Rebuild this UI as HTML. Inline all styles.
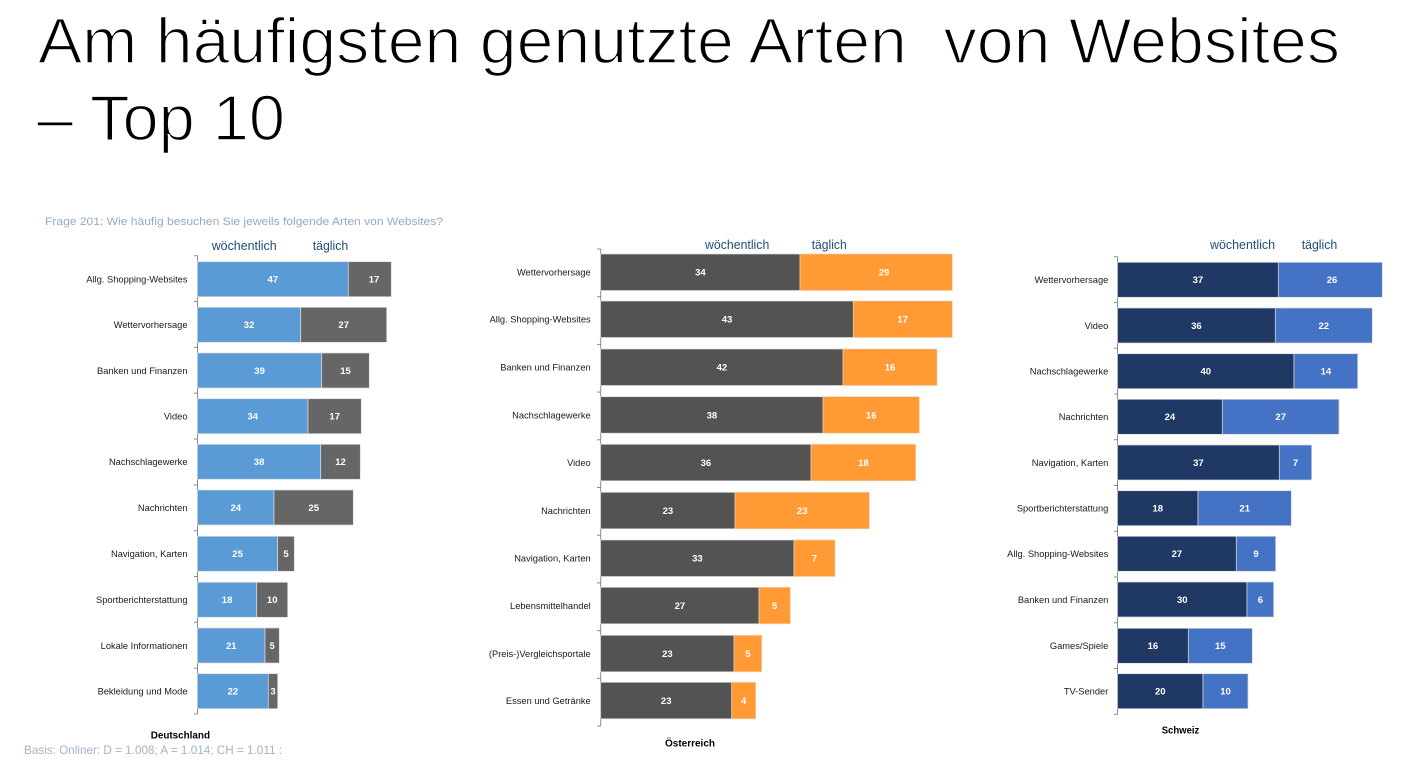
<!DOCTYPE html>
<html><head><meta charset="utf-8">
<style>
html,body{margin:0;padding:0;background:#fff;}
svg{display:block;}
text{font-family:"Liberation Sans",sans-serif;}
.t{font-size:64px;fill:#000;white-space:pre;stroke:#fff;stroke-width:1.6px;}
.cat{font-size:9.3px;fill:#1a1a1a;text-anchor:end;}
.v{font-size:9.5px;font-weight:bold;fill:#fff;text-anchor:middle;}
.lg{font-size:12.5px;fill:#1F4E79;}
.cn{font-size:10px;font-weight:bold;fill:#000;}
.ax{stroke:#8c8c8c;stroke-width:1;fill:none;}
.b1{fill:#5B9BD5;stroke:#dcdcdc;stroke-width:0.7;}
.g1{fill:#666666;stroke:#dcdcdc;stroke-width:0.7;}
.g2{fill:#535353;stroke:#dcdcdc;stroke-width:0.7;}
.o2{fill:#FF9A35;stroke:#f0d0b0;stroke-width:0.7;}
.n3{fill:#203864;stroke:#dcdcdc;stroke-width:0.7;}
.l3{fill:#4472C4;stroke:#dcdcdc;stroke-width:0.7;}
</style></head>
<body>
<svg width="1427" height="761" viewBox="0 0 1427 761" xmlns="http://www.w3.org/2000/svg">
<rect width="1427" height="761" fill="#fff"/>
<!-- Title -->
<text class="t" x="38" y="63" textLength="1302" lengthAdjust="spacingAndGlyphs">Am häufigsten genutzte Arten  von Websites</text>
<text class="t" x="37" y="140" textLength="248" lengthAdjust="spacingAndGlyphs">– Top 10</text>

<text x="45" y="225" font-size="11" fill="#95A9C2" textLength="398" lengthAdjust="spacingAndGlyphs">Frage 201: Wie häufig besuchen Sie jeweils folgende Arten von Websites?</text>
<text x="24" y="754" font-size="12" fill="#A3B3C8" textLength="258" lengthAdjust="spacingAndGlyphs">Basis: Onliner: D = 1.008; A = 1.014; CH = 1.011 :</text>

<!-- ============ Chart 1 Deutschland ============ -->
<text class="lg" x="211.7" y="250" textLength="65" lengthAdjust="spacingAndGlyphs">wöchentlich</text>
<text class="lg" x="312.7" y="250" textLength="35.6" lengthAdjust="spacingAndGlyphs">täglich</text>
<g class="ax">
<line x1="197.5" y1="255.7" x2="197.5" y2="714"/>
<line x1="194" y1="255.7" x2="197.5" y2="255.7"/>
<line x1="194" y1="301.5" x2="197.5" y2="301.5"/>
<line x1="194" y1="347.4" x2="197.5" y2="347.4"/>
<line x1="194" y1="393.2" x2="197.5" y2="393.2"/>
<line x1="194" y1="439" x2="197.5" y2="439"/>
<line x1="194" y1="484.9" x2="197.5" y2="484.9"/>
<line x1="194" y1="530.7" x2="197.5" y2="530.7"/>
<line x1="194" y1="576.5" x2="197.5" y2="576.5"/>
<line x1="194" y1="622.3" x2="197.5" y2="622.3"/>
<line x1="194" y1="668.2" x2="197.5" y2="668.2"/>
<line x1="194" y1="714" x2="197.5" y2="714"/>
</g>
<rect class="b1" x="197.5" y="261.7" width="150.8" height="35"/><rect class="g1" x="348.3" y="261.7" width="43" height="35"/>
<rect class="b1" x="197.5" y="307.3" width="103.2" height="35"/><rect class="g1" x="300.7" y="307.3" width="86" height="35"/>
<rect class="b1" x="197.5" y="353" width="124.2" height="35"/><rect class="g1" x="321.7" y="353" width="47.6" height="35"/>
<rect class="b1" x="197.5" y="398.7" width="110.5" height="35"/><rect class="g1" x="308" y="398.7" width="53.3" height="35"/>
<rect class="b1" x="197.5" y="444.3" width="123.2" height="35"/><rect class="g1" x="320.7" y="444.3" width="39.6" height="35"/>
<rect class="b1" x="197.5" y="490" width="76.5" height="35"/><rect class="g1" x="274" y="490" width="79.3" height="35"/>
<rect class="b1" x="197.5" y="536.3" width="80.2" height="35"/><rect class="g1" x="277.7" y="536.3" width="16.6" height="35"/>
<rect class="b1" x="197.5" y="582.3" width="59.2" height="35"/><rect class="g1" x="256.7" y="582.3" width="31" height="35"/>
<rect class="b1" x="197.5" y="628" width="67.5" height="35"/><rect class="g1" x="265" y="628" width="14.3" height="35"/>
<rect class="b1" x="197.5" y="673.7" width="70.8" height="35"/><rect class="g1" x="268.3" y="673.7" width="9.4" height="35"/>

<text class="cat" x="187.5" y="282.5">Allg. Shopping-Websites</text>
<text class="cat" x="187.5" y="328.1">Wettervorhersage</text>
<text class="cat" x="187.5" y="373.8">Banken und Finanzen</text>
<text class="cat" x="187.5" y="419.5">Video</text>
<text class="cat" x="187.5" y="465.1">Nachschlagewerke</text>
<text class="cat" x="187.5" y="510.8">Nachrichten</text>
<text class="cat" x="187.5" y="557.1">Navigation, Karten</text>
<text class="cat" x="187.5" y="603.1">Sportberichterstattung</text>
<text class="cat" x="187.5" y="648.8">Lokale Informationen</text>
<text class="cat" x="187.5" y="694.5">Bekleidung und Mode</text>

<text class="v" x="272.9" y="282.6">47</text><text class="v" x="374" y="282.6">17</text>
<text class="v" x="249.1" y="328.2">32</text><text class="v" x="343.7" y="328.2">27</text>
<text class="v" x="259.6" y="373.9">39</text><text class="v" x="345.5" y="373.9">15</text>
<text class="v" x="252.8" y="419.6">34</text><text class="v" x="334.7" y="419.6">17</text>
<text class="v" x="259.1" y="465.2">38</text><text class="v" x="340.5" y="465.2">12</text>
<text class="v" x="235.8" y="510.9">24</text><text class="v" x="313.7" y="510.9">25</text>
<text class="v" x="237.6" y="557.2">25</text><text class="v" x="286" y="557.2">5</text>
<text class="v" x="227.1" y="603.2">18</text><text class="v" x="272.2" y="603.2">10</text>
<text class="v" x="231.3" y="648.9">21</text><text class="v" x="272.2" y="648.9">5</text>
<text class="v" x="232.9" y="694.6">22</text><text class="v" x="273" y="694.6">3</text>

<text class="cn" x="150.7" y="738.3" textLength="59.3" lengthAdjust="spacingAndGlyphs">Deutschland</text>

<!-- ============ Chart 2 Österreich ============ -->
<text class="lg" x="705" y="249" textLength="64.3" lengthAdjust="spacingAndGlyphs">wöchentlich</text>
<text class="lg" x="811.7" y="249" textLength="35" lengthAdjust="spacingAndGlyphs">täglich</text>
<g class="ax">
<line x1="600.7" y1="249" x2="600.7" y2="726"/>
<line x1="597" y1="249" x2="600.7" y2="249"/>
<line x1="597" y1="296.7" x2="600.7" y2="296.7"/>
<line x1="597" y1="344.4" x2="600.7" y2="344.4"/>
<line x1="597" y1="392.1" x2="600.7" y2="392.1"/>
<line x1="597" y1="439.8" x2="600.7" y2="439.8"/>
<line x1="597" y1="487.5" x2="600.7" y2="487.5"/>
<line x1="597" y1="535.2" x2="600.7" y2="535.2"/>
<line x1="597" y1="582.9" x2="600.7" y2="582.9"/>
<line x1="597" y1="630.6" x2="600.7" y2="630.6"/>
<line x1="597" y1="678.3" x2="600.7" y2="678.3"/>
<line x1="597" y1="726" x2="600.7" y2="726"/>
</g>
<rect class="g2" x="600.7" y="254" width="199.3" height="36.5"/><rect class="o2" x="800" y="254" width="152.3" height="36.5"/>
<rect class="g2" x="600.7" y="301" width="252.6" height="36.5"/><rect class="o2" x="853.3" y="301" width="99" height="36.5"/>
<rect class="g2" x="600.7" y="349" width="242.3" height="36.5"/><rect class="o2" x="843" y="349" width="94" height="36.5"/>
<rect class="g2" x="600.7" y="396.7" width="222.3" height="36.5"/><rect class="o2" x="823" y="396.7" width="96.3" height="36.5"/>
<rect class="g2" x="600.7" y="444.3" width="210.3" height="36.5"/><rect class="o2" x="811" y="444.3" width="104.7" height="36.5"/>
<rect class="g2" x="600.7" y="492.3" width="134.3" height="36.5"/><rect class="o2" x="735" y="492.3" width="134.3" height="36.5"/>
<rect class="g2" x="600.7" y="540" width="193.3" height="36.5"/><rect class="o2" x="794" y="540" width="41" height="36.5"/>
<rect class="g2" x="600.7" y="587.3" width="158.3" height="36.5"/><rect class="o2" x="759" y="587.3" width="31.3" height="36.5"/>
<rect class="g2" x="600.7" y="635.3" width="133.3" height="36.5"/><rect class="o2" x="734" y="635.3" width="27.7" height="36.5"/>
<rect class="g2" x="600.7" y="682.3" width="131" height="36.5"/><rect class="o2" x="731.7" y="682.3" width="24" height="36.5"/>

<text class="cat" x="590.7" y="275.6">Wettervorhersage</text>
<text class="cat" x="590.7" y="322.6">Allg. Shopping-Websites</text>
<text class="cat" x="590.7" y="370.6">Banken und Finanzen</text>
<text class="cat" x="590.7" y="418.3">Nachschlagewerke</text>
<text class="cat" x="590.7" y="465.9">Video</text>
<text class="cat" x="590.7" y="513.9">Nachrichten</text>
<text class="cat" x="590.7" y="561.6">Navigation, Karten</text>
<text class="cat" x="590.7" y="608.9">Lebensmittelhandel</text>
<text class="cat" x="590.7" y="656.9">(Preis-)Vergleichsportale</text>
<text class="cat" x="590.7" y="703.9">Essen und Getränke</text>

<text class="v" x="700.4" y="275.7">34</text><text class="v" x="884" y="275.7">29</text>
<text class="v" x="727" y="322.7">43</text><text class="v" x="902.7" y="322.7">17</text>
<text class="v" x="721.9" y="370.7">42</text><text class="v" x="890" y="370.7">16</text>
<text class="v" x="711.9" y="418.4">38</text><text class="v" x="871.2" y="418.4">16</text>
<text class="v" x="705.9" y="466">36</text><text class="v" x="863.4" y="466">18</text>
<text class="v" x="667.9" y="514">23</text><text class="v" x="802.2" y="514">23</text>
<text class="v" x="697.4" y="561.7">33</text><text class="v" x="814.5" y="561.7">7</text>
<text class="v" x="679.9" y="609">27</text><text class="v" x="774.7" y="609">5</text>
<text class="v" x="667.4" y="657">23</text><text class="v" x="747.9" y="657">5</text>
<text class="v" x="666.2" y="704">23</text><text class="v" x="743.7" y="704">4</text>

<text class="cn" x="665" y="746.7" textLength="50" lengthAdjust="spacingAndGlyphs">Österreich</text>

<!-- ============ Chart 3 Schweiz ============ -->
<text class="lg" x="1210" y="249" textLength="65" lengthAdjust="spacingAndGlyphs">wöchentlich</text>
<text class="lg" x="1301.7" y="249" textLength="35.6" lengthAdjust="spacingAndGlyphs">täglich</text>
<g class="ax">
<line x1="1117.5" y1="256.7" x2="1117.5" y2="714.3"/>
<line x1="1114" y1="256.7" x2="1117.5" y2="256.7"/>
<line x1="1114" y1="302.5" x2="1117.5" y2="302.5"/>
<line x1="1114" y1="348.2" x2="1117.5" y2="348.2"/>
<line x1="1114" y1="394" x2="1117.5" y2="394"/>
<line x1="1114" y1="439.7" x2="1117.5" y2="439.7"/>
<line x1="1114" y1="485.5" x2="1117.5" y2="485.5"/>
<line x1="1114" y1="531.3" x2="1117.5" y2="531.3"/>
<line x1="1114" y1="577" x2="1117.5" y2="577"/>
<line x1="1114" y1="622.8" x2="1117.5" y2="622.8"/>
<line x1="1114" y1="668.5" x2="1117.5" y2="668.5"/>
<line x1="1114" y1="714.3" x2="1117.5" y2="714.3"/>
</g>
<rect class="n3" x="1117.5" y="262.3" width="160.8" height="35"/><rect class="l3" x="1278.3" y="262.3" width="104" height="35"/>
<rect class="n3" x="1117.5" y="308" width="157.8" height="35"/><rect class="l3" x="1275.3" y="308" width="97" height="35"/>
<rect class="n3" x="1117.5" y="353.7" width="176.5" height="35"/><rect class="l3" x="1294" y="353.7" width="63.7" height="35"/>
<rect class="n3" x="1117.5" y="399.3" width="104.8" height="35"/><rect class="l3" x="1222.3" y="399.3" width="116.7" height="35"/>
<rect class="n3" x="1117.5" y="445" width="161.8" height="35"/><rect class="l3" x="1279.3" y="445" width="32.4" height="35"/>
<rect class="n3" x="1117.5" y="490.7" width="80.5" height="35"/><rect class="l3" x="1198" y="490.7" width="93.3" height="35"/>
<rect class="n3" x="1117.5" y="536.3" width="118.8" height="35"/><rect class="l3" x="1236.3" y="536.3" width="39.4" height="35"/>
<rect class="n3" x="1117.5" y="582" width="129.5" height="35"/><rect class="l3" x="1247" y="582" width="26.7" height="35"/>
<rect class="n3" x="1117.5" y="628.3" width="70.8" height="35"/><rect class="l3" x="1188.3" y="628.3" width="64" height="35"/>
<rect class="n3" x="1117.5" y="673.7" width="85.5" height="35"/><rect class="l3" x="1203" y="673.7" width="45" height="35"/>

<text class="cat" x="1108.3" y="283.1">Wettervorhersage</text>
<text class="cat" x="1108.3" y="328.8">Video</text>
<text class="cat" x="1108.3" y="374.5">Nachschlagewerke</text>
<text class="cat" x="1108.3" y="420.1">Nachrichten</text>
<text class="cat" x="1108.3" y="465.8">Navigation, Karten</text>
<text class="cat" x="1108.3" y="511.5">Sportberichterstattung</text>
<text class="cat" x="1108.3" y="557.1">Allg. Shopping-Websites</text>
<text class="cat" x="1108.3" y="602.8">Banken und Finanzen</text>
<text class="cat" x="1108.3" y="649.1">Games/Spiele</text>
<text class="cat" x="1108.3" y="694.5">TV-Sender</text>

<text class="v" x="1197.9" y="283.2">37</text><text class="v" x="1332" y="283.2">26</text>
<text class="v" x="1196.4" y="328.9">36</text><text class="v" x="1323.8" y="328.9">22</text>
<text class="v" x="1205.8" y="374.6">40</text><text class="v" x="1325.9" y="374.6">14</text>
<text class="v" x="1169.9" y="420.2">24</text><text class="v" x="1280.7" y="420.2">27</text>
<text class="v" x="1198.4" y="465.9">37</text><text class="v" x="1295.5" y="465.9">7</text>
<text class="v" x="1157.8" y="511.6">18</text><text class="v" x="1244.7" y="511.6">21</text>
<text class="v" x="1176.9" y="557.2">27</text><text class="v" x="1256" y="557.2">9</text>
<text class="v" x="1182.3" y="602.9">30</text><text class="v" x="1260.4" y="602.9">6</text>
<text class="v" x="1152.9" y="649.2">16</text><text class="v" x="1220.3" y="649.2">15</text>
<text class="v" x="1160.3" y="694.6">20</text><text class="v" x="1225.5" y="694.6">10</text>

<text class="cn" x="1161.7" y="733.3" textLength="37.6" lengthAdjust="spacingAndGlyphs">Schweiz</text>
</svg>
</body></html>
